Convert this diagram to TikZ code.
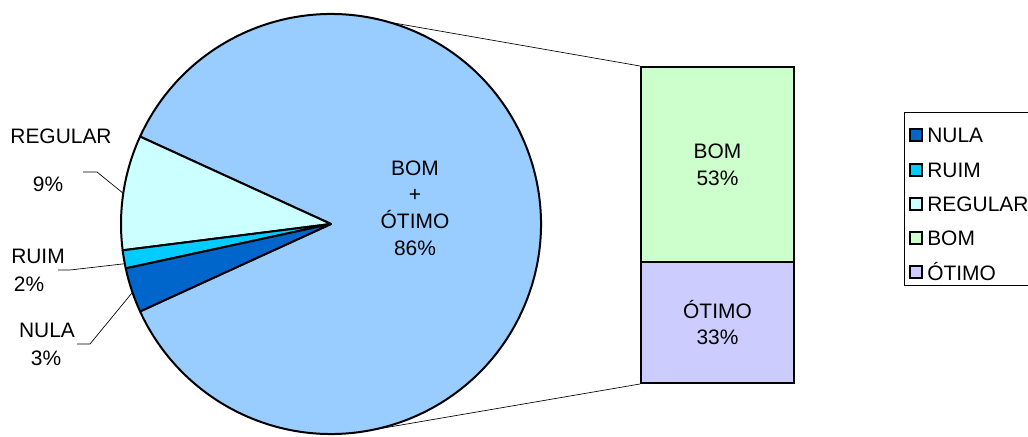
\documentclass[tikz,border=0pt]{standalone}
\usepackage{fontspec}
\setmainfont{Liberation Sans}
\usepackage{xcolor}
\definecolor{colorpie}{RGB}{153,204,255}
\definecolor{colornula}{RGB}{0,102,204}
\definecolor{colorruim}{RGB}{0,204,255}
\definecolor{colorreg}{RGB}{204,255,255}
\definecolor{colorbom}{RGB}{204,255,204}
\definecolor{colorot}{RGB}{204,204,255}
\usepackage{tikz}
\tikzstyle{slice} = [draw=black, line width=1.5pt, line join=round]
\tikzstyle{txt} = [font=\fontsize{15.7}{20}\selectfont, align=center, inner sep=0pt]
\tikzstyle{leader} = [draw=black, line width=0.5pt]
\tikzstyle{bar} = [txt, draw=black, line width=1.5pt, minimum width=114.75pt]
\tikzstyle{swatch} = [draw=black, line width=1.2pt, minimum size=9.3pt, inner sep=0pt]
\tikzstyle{legtxt} = [txt, anchor=west]

\begin{document}
\begin{tikzpicture}[x=0.75pt,y=0.75pt]
    \useasboundingbox (0,0) rectangle (1028,436);
    \coordinate (c) at (331,212);

    \filldraw[slice, fill=colorpie] (c) -- ++(155.4:210) arc[start angle=155.4, end angle=-155.4, radius=210] -- cycle;
    \filldraw[slice, fill=colorreg] (c) -- ++(155.4:210) arc[start angle=155.4, end angle=187.2, radius=210] -- cycle;
    \filldraw[slice, fill=colorruim] (c) -- ++(187.2:210) arc[start angle=187.2, end angle=192.2, radius=210] -- cycle;
    \filldraw[slice, fill=colornula] (c) -- ++(192.2:210) arc[start angle=192.2, end angle=204.6, radius=210] -- cycle;

    \path (c) ++(171.6:210) coordinate (ereg);
    \path (c) ++(190.9:210) coordinate (eruim);
    \path (c) ++(199:210) coordinate (enula);
    \path (c) ++(74:210) coordinate (etop);
    \path (c) ++(-79:210) coordinate (ebot);

    \node[txt] (pie) at (415,228) {BOM\\+\\ÓTIMO\\86\%};

    \node[txt] (treg) at (61,300) {REGULAR};
    \node[txt] (preg) at (48,252) {9\%};
    \node[txt] (truim) at (38,180) {RUIM};
    \node[txt] (pruim) at (29,152) {2\%};
    \node[txt] (tnula) at (47,106) {NULA};
    \node[txt] (pnula) at (46,78) {3\%};

    \coordinate (kreg) at (83,264);
    \coordinate (kruim) at (58,166);
    \coordinate (knula) at (77,92);
    \draw[leader] (kreg) -- ++(14,0) -- (ereg);
    \draw[leader] (kruim) -- ++(12,0) -- (eruim);
    \draw[leader] (knula) -- ++(13,0) -- (enula);

    \node[bar, fill=colorbom, minimum height=146.25pt] (bom) at (717.5,271.5) {BOM\\53\%};
    \node[bar, fill=colorot, minimum height=90.75pt] (ot) at (717.5,113.5) {ÓTIMO\\33\%};
    \draw[leader] (etop) -- (bom.north west);
    \draw[leader] (ebot) -- (ot.south west);

    \node[draw=black, line width=0.75pt, minimum width=96pt, minimum height=129pt] (leg) at (968,237) {};
    \node[swatch, fill=colornula] (snula) at (916,301) {};
    \node[swatch, fill=colorruim] (sruim) at (916,266) {};
    \node[swatch, fill=colorreg] (sreg) at (916,232) {};
    \node[swatch, fill=colorbom] (sbom) at (916,198) {};
    \node[swatch, fill=colorot] (sot) at (916,164) {};
    \node[legtxt] (lnula) at (927,301) {NULA};
    \node[legtxt] (lruim) at (927,266) {RUIM};
    \node[legtxt] (lreg) at (927,232) {REGULAR};
    \node[legtxt] (lbom) at (927,198) {BOM};
    \node[legtxt] (lot) at (927,164) {ÓTIMO};
\end{tikzpicture}
\end{document}
